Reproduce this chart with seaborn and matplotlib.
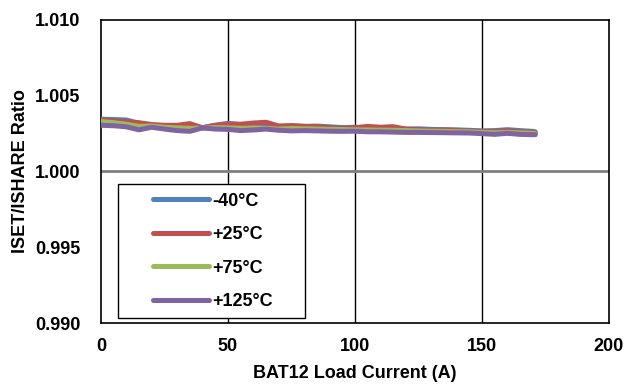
"""ISET/ISHARE ratio vs BAT12 load current."""

import matplotlib
matplotlib.use("Agg")
import matplotlib.pyplot as plt
import matplotlib.patches as mpatches
import pandas as pd
import seaborn as sns

load_current = [0, 5, 10, 15, 20, 25, 30, 35, 40, 45, 50, 55, 60, 65, 70, 75,
                80, 85, 90, 95, 100, 105, 110, 115, 120, 125, 130, 135, 140,
                145, 150, 155, 160, 165, 170, 171]

ratio_m40 = [1.00345, 1.00343, 1.00340, 1.00318, 1.00305, 1.00300, 1.00302,
             1.00305, 1.00290, 1.00305, 1.00318, 1.00310, 1.00300, 1.00310,
             1.00298, 1.00300, 1.00298, 1.00300, 1.00295, 1.00290, 1.00292,
             1.00290, 1.00288, 1.00285, 1.00280, 1.00282, 1.00278, 1.00276,
             1.00275, 1.00272, 1.00268, 1.00270, 1.00276, 1.00270, 1.00265,
             1.00262]
ratio_25 = [1.00340, 1.00333, 1.00328, 1.00322, 1.00310, 1.00305, 1.00305,
            1.00316, 1.00288, 1.00305, 1.00312, 1.00312, 1.00320, 1.00325,
            1.00300, 1.00303, 1.00298, 1.00295, 1.00290, 1.00283, 1.00288,
            1.00298, 1.00292, 1.00296, 1.00280, 1.00276, 1.00272, 1.00275,
            1.00270, 1.00266, 1.00265, 1.00264, 1.00268, 1.00262, 1.00258,
            1.00255]
ratio_75 = [1.00330, 1.00322, 1.00312, 1.00298, 1.00300, 1.00292, 1.00288,
            1.00285, 1.00286, 1.00290, 1.00288, 1.00285, 1.00287, 1.00285,
            1.00280, 1.00284, 1.00282, 1.00280, 1.00278, 1.00277, 1.00275,
            1.00274, 1.00273, 1.00272, 1.00270, 1.00268, 1.00266, 1.00265,
            1.00263, 1.00262, 1.00258, 1.00256, 1.00258, 1.00255, 1.00252,
            1.00250]
ratio_125 = [1.00305, 1.00302, 1.00295, 1.00275, 1.00292, 1.00280, 1.00270,
             1.00265, 1.00288, 1.00280, 1.00278, 1.00270, 1.00274, 1.00280,
             1.00272, 1.00268, 1.00270, 1.00268, 1.00266, 1.00265, 1.00266,
             1.00262, 1.00262, 1.00260, 1.00258, 1.00258, 1.00257, 1.00256,
             1.00255, 1.00254, 1.00250, 1.00245, 1.00252, 1.00245, 1.00243,
             1.00243]

temps = ["-40°C", "+25°C", "+75°C", "+125°C"]
colors = ["#4F81BD", "#C0504D", "#9BBB59", "#8064A2"]
y_ticks = [0.990, 0.995, 1.000, 1.005, 1.010]
x_ticks = [0, 50, 100, 150, 200]

frames = []
for t, vals in zip(temps, [ratio_m40, ratio_25, ratio_75, ratio_125]):
    frames.append(pd.DataFrame({"current": load_current, "ratio": vals, "temp": t}))
df = pd.concat(frames, ignore_index=True)

sns.set_style("white")
plt.rcParams["font.family"] = ["Liberation Sans", "DejaVu Sans"]
plt.rcParams["font.weight"] = "bold"
plt.rcParams["text.color"] = "black"
plt.rcParams["axes.labelcolor"] = "black"
plt.rcParams["xtick.color"] = "black"
plt.rcParams["ytick.color"] = "black"
FS = 13

fig = plt.figure(figsize=(6.35, 3.86), dpi=100)
ax = fig.add_axes([0.159, 0.1632, 0.8, 0.785])

# grid lines
for xv in x_ticks[1:-1]:
    ax.axvline(xv, color="black", lw=1, zorder=1)
ax.axhline(1.000, color="#808080", lw=2, zorder=1)

sns.lineplot(data=df, x="current", y="ratio", hue="temp", hue_order=temps,
             palette=colors, lw=3.6, ax=ax, zorder=3, solid_capstyle="round")

ax.set_xlim(0, 200)
ax.set_ylim(0.990, 1.010)
ax.set_xticks(x_ticks)
ax.set_yticks(y_ticks)
ax.set_yticklabels([f"{v:.3f}" for v in y_ticks])
ax.tick_params(axis="y", direction="in", length=4, width=1, labelsize=FS, pad=15)
ax.tick_params(axis="x", length=0, labelsize=FS, pad=11)
for lab in ax.get_xticklabels() + ax.get_yticklabels():
    lab.set_fontweight("bold")
for sp in ax.spines.values():
    sp.set_color("black")
    sp.set_linewidth(1.2)

ax.set_xlabel("BAT12 Load Current (A)", fontsize=FS, fontweight="bold", labelpad=7)
ax.set_ylabel("ISET/ISHARE Ratio", fontsize=FS, fontweight="bold", labelpad=4)

# legend box
box = mpatches.Rectangle((0.033, 0.0165), 0.368, 0.442, transform=ax.transAxes,
                         facecolor="white", edgecolor="black", lw=1, zorder=4)
ax.add_patch(box)
leg = ax.legend(loc="center left", bbox_to_anchor=(0.102, 0.236), frameon=False,
                handlelength=3.1, handletextpad=0.22, labelspacing=0.92,
                borderpad=0, borderaxespad=0, prop={"size": FS, "weight": "bold"})
leg.set_zorder(5)
for line in leg.get_lines():
    line.set_linewidth(3.6)
    line.set_solid_capstyle("round")

plt.savefig("out.png", dpi=100)
